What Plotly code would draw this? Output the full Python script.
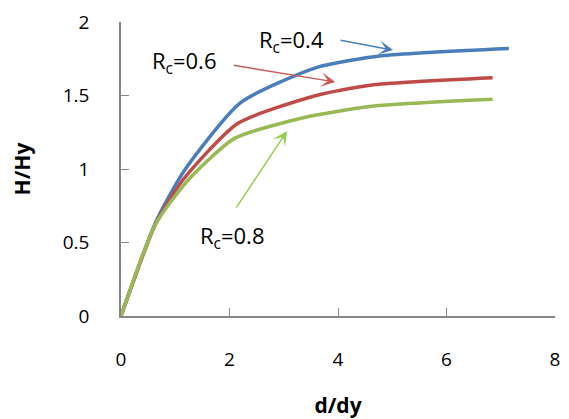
import plotly.graph_objects as go

# Data
x_rc04 = [0, 0.63, 1.15, 2.2, 3.6, 4.8, 7.15]
y_rc04 = [0, 0.63, 0.98, 1.45, 1.69, 1.77, 1.82]

x_rc06 = [0, 0.63, 1.15, 2.15, 3.6, 4.6, 6.85]
y_rc06 = [0, 0.62, 0.93, 1.31, 1.50, 1.57, 1.62]

x_rc08 = [0, 0.63, 1.25, 2.1, 3.5, 4.7, 6.85]
y_rc08 = [0, 0.62, 0.93, 1.21, 1.36, 1.43, 1.475]

x_ticks = [0, 2, 4, 6, 8]
y_ticks = [0, 0.5, 1, 1.5, 2]
y_tick_text = ["0", "0.5", "1", "1.5", "2"]

labels = ["R<sub>c</sub>=0.4", "R<sub>c</sub>=0.6", "R<sub>c</sub>=0.8"]
label_pos = [(3.14, 1.87), (1.157, 1.73), (2.05, 0.535)]
arrow_tail = [(4.02, 1.877), (2.05, 1.707), (2.106, 0.727)]
arrow_head = [(5.015, 1.809), (3.95, 1.592), (3.06, 1.258)]

line_colors = ["#4A7EBB", "#BE4B48", "#98B954"]
arrow_colors = ["#4A7EBB", "#C65A57", "#92D050"]

FONT = "Open Sans"

fig = go.Figure()
for xs, ys, c in zip([x_rc04, x_rc06, x_rc08], [y_rc04, y_rc06, y_rc08], line_colors):
    fig.add_trace(go.Scatter(x=xs, y=ys, mode="lines",
                             line=dict(color=c, width=3.5, shape="spline", smoothing=0.6),
                             showlegend=False, cliponaxis=False))

annotations = []
for txt, (lx, ly) in zip(labels, label_pos):
    annotations.append(dict(x=lx, y=ly, xref="x", yref="y", text=txt, showarrow=False,
                            font=dict(family=FONT, size=22, color="#000000")))
for (tx, ty), (hx, hy), c in zip(arrow_tail, arrow_head, arrow_colors):
    annotations.append(dict(x=hx, y=hy, ax=tx, ay=ty, xref="x", yref="y",
                            axref="x", ayref="y", text="", showarrow=True,
                            arrowhead=3, arrowsize=1.6, arrowwidth=1.5, arrowcolor=c))

fig.update_layout(
    width=569, height=419,
    margin=dict(l=121, r=14, t=22, b=103),
    paper_bgcolor="white", plot_bgcolor="white",
    font=dict(family=FONT, color="#000000"),
    annotations=annotations,
    xaxis=dict(range=[0, 8], tickvals=x_ticks, ticks="inside", ticklen=8,
               tickcolor="#868686", tickwidth=1.3, automargin=False,
               showline=True, linecolor="#868686", linewidth=1.5,
               showgrid=False, zeroline=False,
               tickfont=dict(family=FONT, size=19),
               ticklabelstandoff=25,
               title=dict(text="<b>d/dy</b>", font=dict(family=FONT, size=21), standoff=28)),
    yaxis=dict(range=[0, 2], tickvals=y_ticks, ticktext=y_tick_text, ticks="inside", ticklen=8,
               tickcolor="#868686", tickwidth=1.3, automargin=False,
               showline=True, linecolor="#868686", linewidth=1.5,
               showgrid=False, zeroline=False,
               tickfont=dict(family=FONT, size=19),
               ticklabelstandoff=26,
               title=dict(text="<b>H/Hy</b>", font=dict(family=FONT, size=21), standoff=26)),
)

fig.write_html("out.html")
